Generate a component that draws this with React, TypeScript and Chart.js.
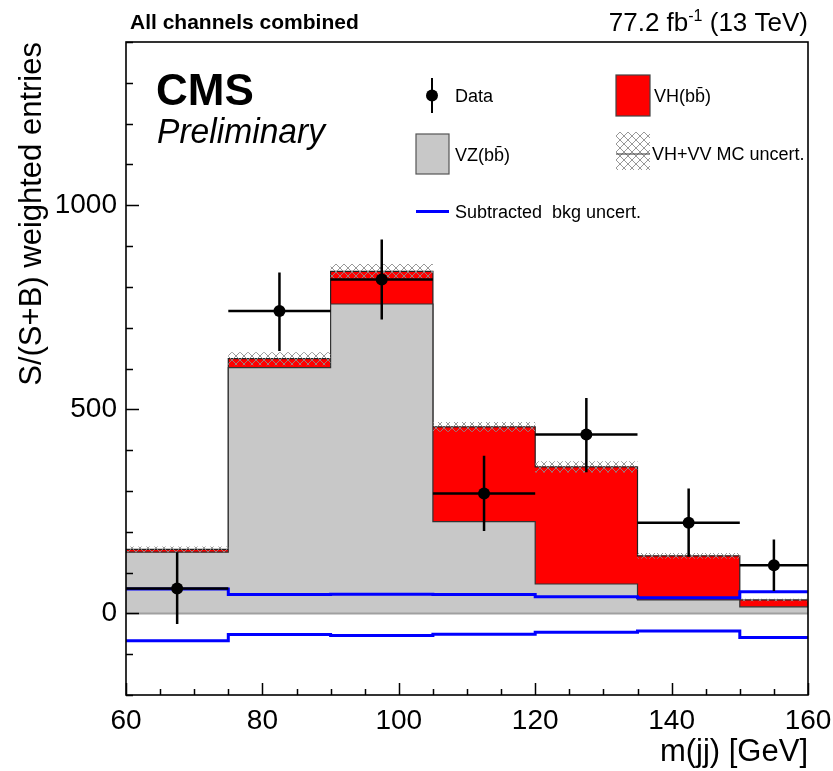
import React, { useEffect, useRef } from 'react';
import { Chart, registerables } from 'chart.js';

Chart.register(...registerables);

// ---------------- data ----------------
const binEdges = [60, 75, 90, 105, 120, 135, 150, 160];
const vzValues = [150, 602, 758, 225, 72, 33, 16];
const vhValues = [7, 22, 80, 232, 287, 108, 17];
const mcUncert = [7, 16, 18, 12, 14, 7, 3];
const dataValues = [61, 741, 818, 294, 438, 222, 118];
const dataErrUp = [89, 94, 98, 92, 90, 84, 63];
const dataErrDown = [87, 98, 98, 92, 92, 83, 63];
const bkgUncUp = [60, 46, 47, 46, 41, 38, 53];
const bkgUncDown = [-67, -52, -54, -51, -46, -43, -59];
const xMajorTicks = [60, 80, 100, 120, 140, 160];
const yMajorTicks = [0, 500, 1000];

const FF = '"Liberation Sans", Arial, Helvetica, sans-serif';

const totals = vzValues.map((v, i) => v + vhValues[i]);
const binCenters = dataValues.map((_, i) => (binEdges[i] + binEdges[i + 1]) / 2);
const step = (vals: number[]) =>
  binEdges.map((x, i) => ({ x, y: vals[Math.min(i, vals.length - 1)] }));

function makeHatch(): CanvasPattern | string {
  const c = document.createElement('canvas');
  c.width = 8;
  c.height = 8;
  const g = c.getContext('2d');
  if (!g) return 'rgba(0,0,0,0.2)';
  g.strokeStyle = '#8c8c8c';
  g.lineWidth = 0.9;
  g.beginPath();
  g.moveTo(0, 0);
  g.lineTo(8, 8);
  g.moveTo(8, 0);
  g.lineTo(0, 8);
  g.stroke();
  return g.createPattern(c, 'repeat') || 'rgba(0,0,0,0.2)';
}

const hepPlugin = {
  id: 'hepDecor',
  afterDatasetsDraw(chart: any) {
    const { ctx, chartArea: a, scales } = chart;
    const x = scales.x;
    const y = scales.y;
    ctx.save();
    // data error bars
    ctx.strokeStyle = '#000';
    ctx.lineWidth = 2.5;
    dataValues.forEach((v, i) => {
      const xl = x.getPixelForValue(binEdges[i]);
      const xr = x.getPixelForValue(binEdges[i + 1]);
      const xc = x.getPixelForValue(binCenters[i]);
      const yc = y.getPixelForValue(v);
      ctx.beginPath();
      ctx.moveTo(xl, yc);
      ctx.lineTo(xr, yc);
      ctx.moveTo(xc, y.getPixelForValue(v + dataErrUp[i]));
      ctx.lineTo(xc, y.getPixelForValue(v - dataErrDown[i]));
      ctx.stroke();
    });
    // ticks (inward)
    ctx.strokeStyle = '#000';
    ctx.lineWidth = 1.5;
    ctx.beginPath();
    y.ticks.forEach((t: any) => {
      const py = Math.round(y.getPixelForValue(t.value)) + 0.5;
      const len = yMajorTicks.includes(t.value) ? 13 : 7;
      ctx.moveTo(a.left, py);
      ctx.lineTo(a.left + len, py);
    });
    x.ticks.forEach((t: any) => {
      const px = Math.round(x.getPixelForValue(t.value)) + 0.5;
      const len = xMajorTicks.includes(t.value) ? 12 : 6;
      ctx.moveTo(px, a.bottom);
      ctx.lineTo(px, a.bottom - len);
    });
    ctx.stroke();
    // frame
    ctx.lineWidth = 1.6;
    ctx.strokeStyle = '#000';
    ctx.strokeRect(a.left, a.top, a.right - a.left, a.bottom - a.top);
    ctx.restore();
  },
  afterDraw(chart: any) {
    const { ctx, chartArea: a } = chart;
    ctx.save();
    ctx.fillStyle = '#000';
    ctx.textBaseline = 'alphabetic';
    ctx.textAlign = 'left';

    // header left
    ctx.font = `bold 21px ${FF}`;
    ctx.fillText('All channels combined', 130, 29);

    // header right: 77.2 fb^-1 (13 TeV)
    const p1 = '77.2 fb';
    const sup = '-1';
    const p2 = ' (13 TeV)';
    ctx.font = `26px ${FF}`;
    const w1 = ctx.measureText(p1).width;
    const w2 = ctx.measureText(p2).width;
    ctx.font = `16px ${FF}`;
    const ws = ctx.measureText(sup).width;
    let sx = a.right - (w1 + ws + w2);
    ctx.font = `26px ${FF}`;
    ctx.fillText(p1, sx, 31);
    sx += w1;
    ctx.font = `16px ${FF}`;
    ctx.fillText(sup, sx, 21);
    sx += ws;
    ctx.font = `26px ${FF}`;
    ctx.fillText(p2, sx, 31);

    // CMS Preliminary
    ctx.font = `bold 44px ${FF}`;
    ctx.fillText('CMS', 156, 105);
    ctx.font = `italic 35px ${FF}`;
    ctx.fillText('Preliminary', 157, 143, 168);

    // legend
    ctx.font = `18px ${FF}`;
    // Data
    ctx.strokeStyle = '#000';
    ctx.lineWidth = 2;
    ctx.beginPath();
    ctx.moveTo(432, 78);
    ctx.lineTo(432, 113);
    ctx.stroke();
    ctx.beginPath();
    ctx.arc(432, 95.5, 6, 0, Math.PI * 2);
    ctx.fill();
    ctx.fillText('Data', 455, 102);

    // VH(bb)
    ctx.fillStyle = '#ff0000';
    ctx.fillRect(616, 75, 34, 41);
    ctx.strokeStyle = '#444';
    ctx.lineWidth = 1.2;
    ctx.strokeRect(616, 75, 34, 41);
    ctx.fillStyle = '#000';
    ctx.fillText('VH(bb\u0304)', 654, 102);

    // VZ(bb)
    ctx.fillStyle = '#c8c8c8';
    ctx.fillRect(416, 134, 33, 40);
    ctx.strokeStyle = '#555';
    ctx.strokeRect(416, 134, 33, 40);
    ctx.fillStyle = '#000';
    ctx.fillText('VZ(bb\u0304)', 455, 161);

    // MC uncert
    const hatch = makeHatch();
    ctx.fillStyle = hatch as any;
    ctx.fillRect(616, 132, 34, 38);
    ctx.strokeStyle = '#333';
    ctx.lineWidth = 1.2;
    ctx.beginPath();
    ctx.moveTo(616, 154);
    ctx.lineTo(650, 154);
    ctx.stroke();
    ctx.fillStyle = '#000';
    ctx.fillText('VH+VV MC uncert.', 652, 160);

    // Subtracted bkg uncert.
    ctx.strokeStyle = '#0000ff';
    ctx.lineWidth = 3;
    ctx.beginPath();
    ctx.moveTo(416, 211.5);
    ctx.lineTo(449, 211.5);
    ctx.stroke();
    ctx.fillText('Subtracted  bkg uncert.', 455, 217.5);

    ctx.restore();
  },
};

export default function App() {
  const canvasRef = useRef<HTMLCanvasElement | null>(null);

  useEffect(() => {
    const canvas = canvasRef.current;
    if (!canvas) return;
    const hatch = makeHatch();
    const chart = new Chart(canvas, {
      type: 'line',
      data: {
        datasets: [
          {
            label: 'VH(bb)',
            data: step(totals),
            stepped: 'before',
            borderColor: '#222',
            borderWidth: 1.2,
            backgroundColor: '#ff0000',
            fill: 'origin',
            pointRadius: 0,
            order: 10,
          },
          {
            label: 'VZ(bb)',
            data: step(vzValues),
            stepped: 'before',
            borderColor: '#333',
            borderWidth: 1.2,
            backgroundColor: '#c8c8c8',
            fill: 'origin',
            pointRadius: 0,
            order: 9,
          },
          {
            label: 'MC up',
            data: step(totals.map((t, i) => t + mcUncert[i])),
            stepped: 'before',
            borderColor: 'transparent',
            borderWidth: 0,
            pointRadius: 0,
            fill: false,
            order: 8,
          },
          {
            label: 'MC down',
            data: step(totals.map((t, i) => t - mcUncert[i])),
            stepped: 'before',
            borderColor: 'transparent',
            borderWidth: 0,
            backgroundColor: hatch as any,
            pointRadius: 0,
            fill: '-1',
            order: 7,
          },
          {
            label: 'zero',
            data: [
              { x: binEdges[0], y: 0 },
              { x: binEdges[binEdges.length - 1], y: 0 },
            ],
            borderColor: '#a0a0a0',
            borderWidth: 2,
            pointRadius: 0,
            fill: false,
            order: 6,
          },
          {
            label: 'bkg up',
            data: step(bkgUncUp),
            stepped: 'before',
            borderColor: '#0000ff',
            borderWidth: 3,
            pointRadius: 0,
            fill: false,
            order: 5,
          },
          {
            label: 'bkg down',
            data: step(bkgUncDown),
            stepped: 'before',
            borderColor: '#0000ff',
            borderWidth: 3,
            pointRadius: 0,
            fill: false,
            order: 4,
          },
          {
            label: 'Data',
            data: binCenters.map((x, i) => ({ x, y: dataValues[i] })),
            showLine: false,
            pointRadius: 6,
            pointBackgroundColor: '#000',
            pointBorderColor: '#000',
            pointBorderWidth: 0,
            fill: false,
            order: 1,
          },
        ] as any,
      },
      options: {
        animation: false,
        responsive: true,
        maintainAspectRatio: false,
        events: [],
        layout: { padding: { left: 0, right: 25, top: 42, bottom: 0 } },
        plugins: {
          legend: { display: false },
          tooltip: { enabled: false },
        },
        scales: {
          x: {
            type: 'linear',
            min: 60,
            max: 160,
            grid: { display: false, drawTicks: false },
            border: { display: false },
            ticks: {
              stepSize: 5,
              maxTicksLimit: 100,
              autoSkip: false,
              maxRotation: 0,
              minRotation: 0,
              padding: 9,
              color: '#000',
              font: { family: FF, size: 28 },
              callback: (v: any) => (xMajorTicks.includes(Number(v)) ? String(v) : ''),
            },
            title: {
              display: true,
              text: 'm(jj) [GeV]',
              align: 'end',
              color: '#000',
              font: { family: FF, size: 31 },
              padding: { top: 0, bottom: 0 },
            },
            afterFit: (s: any) => {
              s.height = 76;
              s.paddingLeft = 0;
              s.paddingRight = 0;
            },
          },
          y: {
            type: 'linear',
            min: -200,
            max: 1400,
            grid: { display: false, drawTicks: false },
            border: { display: false },
            ticks: {
              stepSize: 100,
              maxTicksLimit: 100,
              autoSkip: false,
              padding: 9,
              color: '#000',
              font: { family: FF, size: 28 },
              callback: (v: any) => (yMajorTicks.includes(Number(v)) ? String(v) : ''),
            },
            title: {
              display: true,
              text: 'S/(S+B) weighted entries',
              align: 'end',
              color: '#000',
              font: { family: FF, size: 31 },
              padding: { top: 14, bottom: 0 },
            },
            afterFit: (s: any) => {
              s.width = 126;
              s.paddingTop = 0;
              s.paddingBottom = 0;
            },
          },
        },
      } as any,
      plugins: [hepPlugin],
    });
    return () => chart.destroy();
  }, []);

  return (
    <div
      style={{
        position: 'fixed',
        left: 0,
        top: 0,
        width: 833,
        height: 771,
        background: '#fff',
      }}
    >
      <canvas ref={canvasRef} />
    </div>
  );
}
